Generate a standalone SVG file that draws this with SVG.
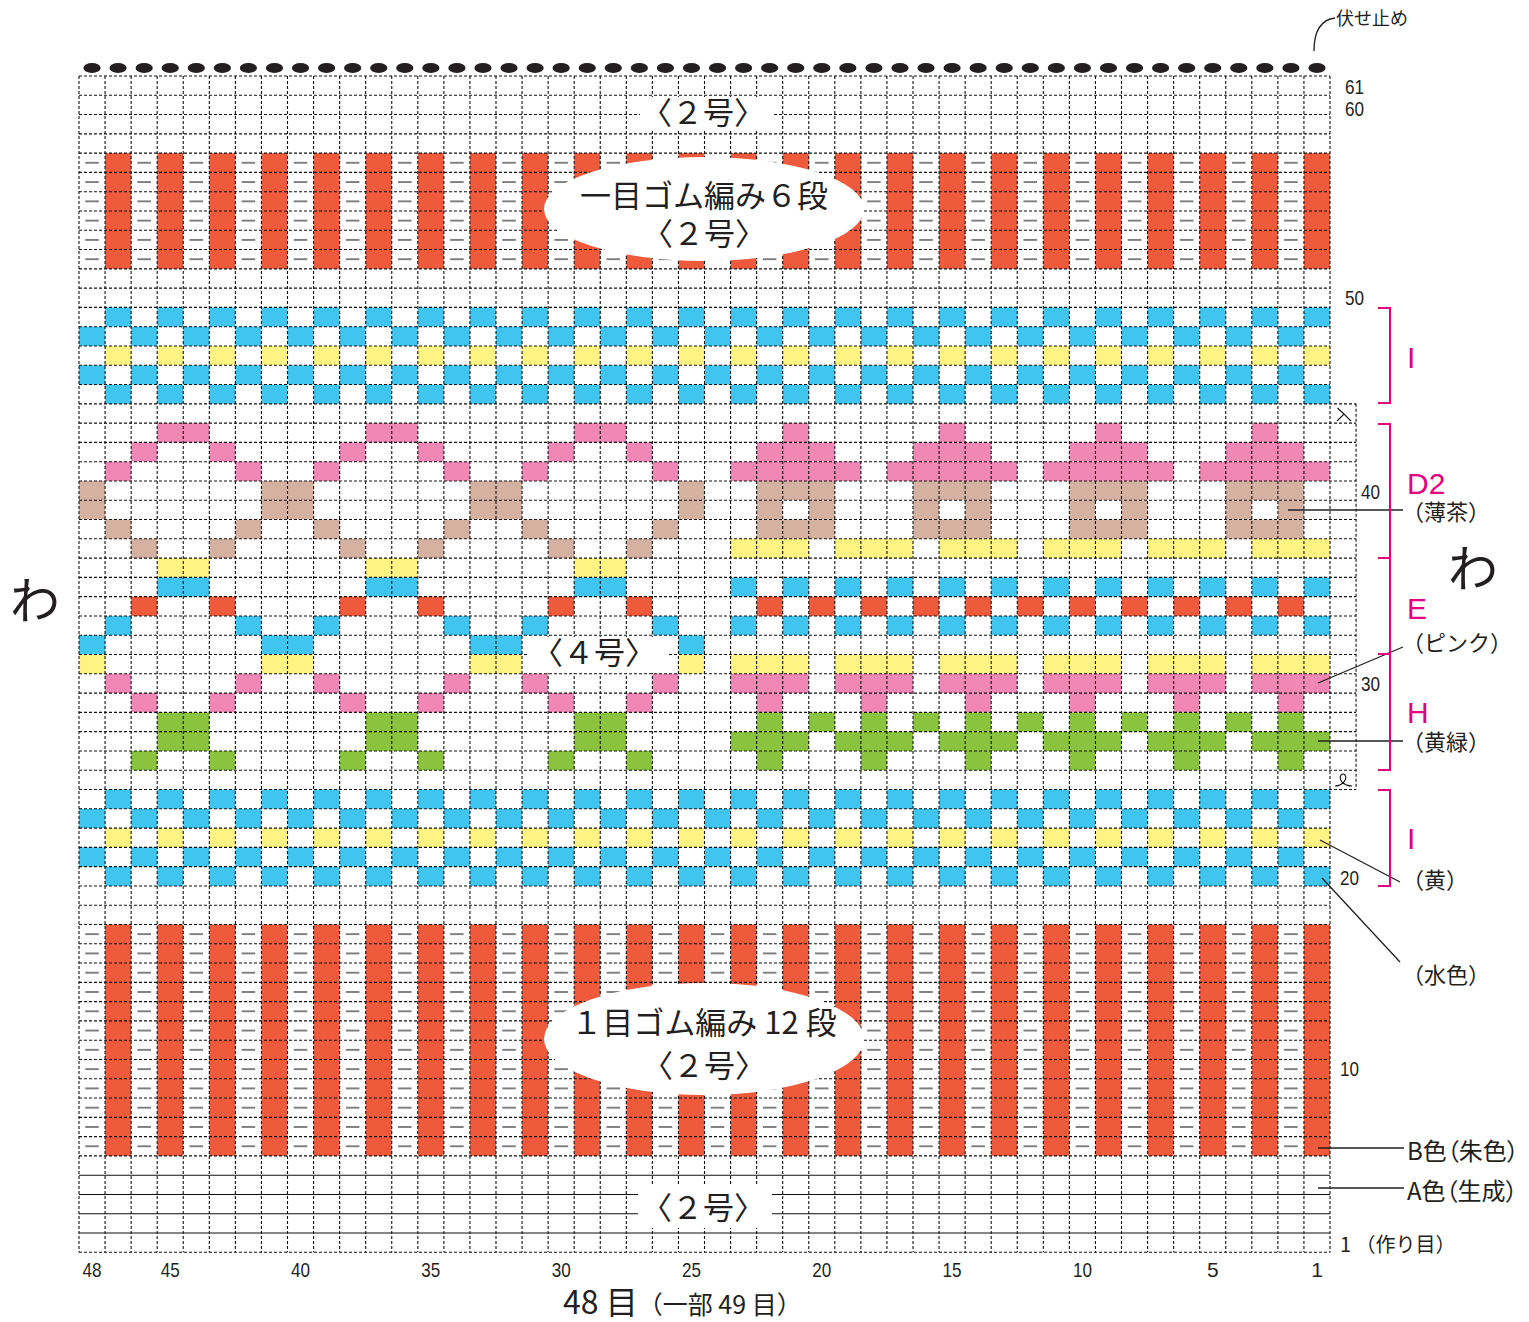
<svg xmlns="http://www.w3.org/2000/svg" xmlns:xlink="http://www.w3.org/1999/xlink" width="1529" height="1322" viewBox="0 0 1529 1322">
<style>
.gd{fill:none;stroke:#111;stroke-width:1.1;stroke-dasharray:3 2}
.gs{fill:none;stroke:#111;stroke-width:1.1}
.ld{fill:none;stroke:#231F20;stroke-width:1.3}
.br{fill:none;stroke:#E5007F;stroke-width:2}
.jp{font-family:"Noto Sans CJK JP","Noto Sans",sans-serif;fill:#231F20}
.pa{font-feature-settings:"palt"}
.num{font-family:"Liberation Sans",Arial,sans-serif;fill:#231F20;font-size:21px}
.mg{font-family:"Liberation Sans",Arial,sans-serif;fill:#E5007F;font-size:30px}
.r{fill:#EF5A3D}.b{fill:#3FC5F0}.y{fill:#FFF383}.p{fill:#F087B5}.t{fill:#D5B1A2}.gr{fill:#8AC43F}.dk{fill:#231F20}.pu{fill:#7F7F7F}
</style>
<defs>
<g id="odd"><rect x="1" width="1" height="1"/><rect x="3" width="1" height="1"/><rect x="5" width="1" height="1"/><rect x="7" width="1" height="1"/><rect x="9" width="1" height="1"/><rect x="11" width="1" height="1"/><rect x="13" width="1" height="1"/><rect x="15" width="1" height="1"/><rect x="17" width="1" height="1"/><rect x="19" width="1" height="1"/><rect x="21" width="1" height="1"/><rect x="23" width="1" height="1"/><rect x="25" width="1" height="1"/><rect x="27" width="1" height="1"/><rect x="29" width="1" height="1"/><rect x="31" width="1" height="1"/><rect x="33" width="1" height="1"/><rect x="35" width="1" height="1"/><rect x="37" width="1" height="1"/><rect x="39" width="1" height="1"/><rect x="41" width="1" height="1"/><rect x="43" width="1" height="1"/><rect x="45" width="1" height="1"/><rect x="47" width="1" height="1"/></g>
<g id="even"><rect x="0" width="1" height="1"/><rect x="2" width="1" height="1"/><rect x="4" width="1" height="1"/><rect x="6" width="1" height="1"/><rect x="8" width="1" height="1"/><rect x="10" width="1" height="1"/><rect x="12" width="1" height="1"/><rect x="14" width="1" height="1"/><rect x="16" width="1" height="1"/><rect x="18" width="1" height="1"/><rect x="20" width="1" height="1"/><rect x="22" width="1" height="1"/><rect x="24" width="1" height="1"/><rect x="26" width="1" height="1"/><rect x="28" width="1" height="1"/><rect x="30" width="1" height="1"/><rect x="32" width="1" height="1"/><rect x="34" width="1" height="1"/><rect x="36" width="1" height="1"/><rect x="38" width="1" height="1"/><rect x="40" width="1" height="1"/><rect x="42" width="1" height="1"/><rect x="44" width="1" height="1"/><rect x="46" width="1" height="1"/></g>
<g id="dsh" class="pu"><rect x="0.24" y="0.45" width="0.52" height="0.1"/><rect x="2.24" y="0.45" width="0.52" height="0.1"/><rect x="4.24" y="0.45" width="0.52" height="0.1"/><rect x="6.24" y="0.45" width="0.52" height="0.1"/><rect x="8.24" y="0.45" width="0.52" height="0.1"/><rect x="10.24" y="0.45" width="0.52" height="0.1"/><rect x="12.24" y="0.45" width="0.52" height="0.1"/><rect x="14.24" y="0.45" width="0.52" height="0.1"/><rect x="16.24" y="0.45" width="0.52" height="0.1"/><rect x="18.24" y="0.45" width="0.52" height="0.1"/><rect x="20.24" y="0.45" width="0.52" height="0.1"/><rect x="22.24" y="0.45" width="0.52" height="0.1"/><rect x="24.24" y="0.45" width="0.52" height="0.1"/><rect x="26.24" y="0.45" width="0.52" height="0.1"/><rect x="28.24" y="0.45" width="0.52" height="0.1"/><rect x="30.24" y="0.45" width="0.52" height="0.1"/><rect x="32.24" y="0.45" width="0.52" height="0.1"/><rect x="34.24" y="0.45" width="0.52" height="0.1"/><rect x="36.24" y="0.45" width="0.52" height="0.1"/><rect x="38.24" y="0.45" width="0.52" height="0.1"/><rect x="40.24" y="0.45" width="0.52" height="0.1"/><rect x="42.24" y="0.45" width="0.52" height="0.1"/><rect x="44.24" y="0.45" width="0.52" height="0.1"/><rect x="46.24" y="0.45" width="0.52" height="0.1"/></g>
<g id="lm">
<rect class="p" x="3" y="18" width="2" height="1"/><rect class="p" x="2" y="19" width="1" height="1"/><rect class="p" x="5" y="19" width="1" height="1"/><rect class="p" x="1" y="20" width="1" height="1"/><rect class="p" x="6" y="20" width="1" height="1"/>
<rect class="t" x="0" y="21" width="1" height="2"/><rect class="t" x="7" y="21" width="1" height="2"/><rect class="t" x="1" y="23" width="1" height="1"/><rect class="t" x="6" y="23" width="1" height="1"/><rect class="t" x="2" y="24" width="1" height="1"/><rect class="t" x="5" y="24" width="1" height="1"/>
<rect class="y" x="3" y="25" width="2" height="1"/><rect class="b" x="3" y="26" width="2" height="1"/><rect class="r" x="2" y="27" width="1" height="1"/><rect class="r" x="5" y="27" width="1" height="1"/>
<rect class="b" x="1" y="28" width="1" height="1"/><rect class="b" x="6" y="28" width="1" height="1"/><rect class="b" x="0" y="29" width="1" height="1"/><rect class="b" x="7" y="29" width="1" height="1"/>
<rect class="y" x="0" y="30" width="1" height="1"/><rect class="y" x="7" y="30" width="1" height="1"/>
<rect class="p" x="1" y="31" width="1" height="1"/><rect class="p" x="6" y="31" width="1" height="1"/><rect class="p" x="2" y="32" width="1" height="1"/><rect class="p" x="5" y="32" width="1" height="1"/>
<rect class="gr" x="3" y="33" width="2" height="2"/><rect class="gr" x="2" y="35" width="1" height="1"/><rect class="gr" x="5" y="35" width="1" height="1"/>
</g>
<g id="hs">
<rect class="p" x="2" y="18" width="1" height="1"/><rect class="p" x="1" y="19" width="3" height="1"/><rect class="p" x="0" y="20" width="5" height="1"/>
<rect class="t" x="1" y="21" width="3" height="1"/><rect class="t" x="1" y="22" width="1" height="1"/><rect class="t" x="3" y="22" width="1" height="1"/><rect class="t" x="1" y="23" width="3" height="1"/>
</g>
<g id="s3">
<rect class="y" x="0" y="24" width="3" height="1"/>
<rect class="b" x="0" y="26" width="1" height="1"/><rect class="b" x="2" y="26" width="1" height="1"/>
<rect class="r" x="1" y="27" width="1" height="1"/>
<rect class="b" x="0" y="28" width="1" height="1"/><rect class="b" x="2" y="28" width="1" height="1"/>
<rect class="y" x="0" y="30" width="3" height="1"/>
<rect class="p" x="0" y="31" width="3" height="1"/>
<rect class="p" x="1" y="32" width="1" height="1"/>
<rect class="gr" x="1" y="33" width="1" height="1"/>
<rect class="gr" x="0" y="34" width="3" height="1"/>
<rect class="gr" x="1" y="35" width="1" height="1"/>
</g>
</defs>
<rect width="1529" height="1322" fill="#fff"/>
<g id="chart" transform="translate(79 76) scale(26.0625 19.284)">
<g id="rib-top">
<use xlink:href="#odd" class="r" transform="translate(0 4) scale(1 6)"/>
<use xlink:href="#dsh" y="4"/><use xlink:href="#dsh" y="5"/><use xlink:href="#dsh" y="6"/><use xlink:href="#dsh" y="7"/><use xlink:href="#dsh" y="8"/><use xlink:href="#dsh" y="9"/>
</g>
<g id="rib-bottom">
<use xlink:href="#odd" class="r" transform="translate(0 44) scale(1 12)"/>
<use xlink:href="#dsh" y="44"/><use xlink:href="#dsh" y="45"/><use xlink:href="#dsh" y="46"/><use xlink:href="#dsh" y="47"/><use xlink:href="#dsh" y="48"/><use xlink:href="#dsh" y="49"/><use xlink:href="#dsh" y="50"/><use xlink:href="#dsh" y="51"/><use xlink:href="#dsh" y="52"/><use xlink:href="#dsh" y="53"/><use xlink:href="#dsh" y="54"/><use xlink:href="#dsh" y="55"/>
</g>
<g id="band-I-top">
<use xlink:href="#odd" class="b" y="12"/><use xlink:href="#even" class="b" y="13"/><use xlink:href="#odd" class="y" y="14"/><use xlink:href="#even" class="b" y="15"/><use xlink:href="#odd" class="b" y="16"/>
</g>
<g id="band-I-bottom">
<use xlink:href="#odd" class="b" y="37"/><use xlink:href="#even" class="b" y="38"/><use xlink:href="#odd" class="y" y="39"/><use xlink:href="#even" class="b" y="40"/><use xlink:href="#odd" class="b" y="41"/>
</g>
<g id="motif-left">
<use xlink:href="#lm" x="0"/><use xlink:href="#lm" x="8"/><use xlink:href="#lm" x="16"/>
</g>
<g id="motif-right">
<use xlink:href="#hs" x="25"/><use xlink:href="#hs" x="31"/><use xlink:href="#hs" x="37"/><use xlink:href="#hs" x="43"/>
<use xlink:href="#s3" x="25"/><use xlink:href="#s3" x="29"/><use xlink:href="#s3" x="33"/><use xlink:href="#s3" x="37"/><use xlink:href="#s3" x="41"/><use xlink:href="#s3" x="45"/>
<rect class="r" x="28" y="27" width="1" height="1"/><rect class="r" x="32" y="27" width="1" height="1"/><rect class="r" x="36" y="27" width="1" height="1"/><rect class="r" x="40" y="27" width="1" height="1"/><rect class="r" x="44" y="27" width="1" height="1"/>
<rect class="gr" x="28" y="33" width="1" height="1"/><rect class="gr" x="32" y="33" width="1" height="1"/><rect class="gr" x="36" y="33" width="1" height="1"/><rect class="gr" x="40" y="33" width="1" height="1"/><rect class="gr" x="44" y="33" width="1" height="1"/>
</g>
<g id="bind-off" class="dk">
<ellipse cx="0.5" cy="-0.415" rx="0.33" ry="0.255"/><ellipse cx="1.5" cy="-0.415" rx="0.33" ry="0.255"/><ellipse cx="2.5" cy="-0.415" rx="0.33" ry="0.255"/><ellipse cx="3.5" cy="-0.415" rx="0.33" ry="0.255"/><ellipse cx="4.5" cy="-0.415" rx="0.33" ry="0.255"/><ellipse cx="5.5" cy="-0.415" rx="0.33" ry="0.255"/><ellipse cx="6.5" cy="-0.415" rx="0.33" ry="0.255"/><ellipse cx="7.5" cy="-0.415" rx="0.33" ry="0.255"/><ellipse cx="8.5" cy="-0.415" rx="0.33" ry="0.255"/><ellipse cx="9.5" cy="-0.415" rx="0.33" ry="0.255"/><ellipse cx="10.5" cy="-0.415" rx="0.33" ry="0.255"/><ellipse cx="11.5" cy="-0.415" rx="0.33" ry="0.255"/><ellipse cx="12.5" cy="-0.415" rx="0.33" ry="0.255"/><ellipse cx="13.5" cy="-0.415" rx="0.33" ry="0.255"/><ellipse cx="14.5" cy="-0.415" rx="0.33" ry="0.255"/><ellipse cx="15.5" cy="-0.415" rx="0.33" ry="0.255"/><ellipse cx="16.5" cy="-0.415" rx="0.33" ry="0.255"/><ellipse cx="17.5" cy="-0.415" rx="0.33" ry="0.255"/><ellipse cx="18.5" cy="-0.415" rx="0.33" ry="0.255"/><ellipse cx="19.5" cy="-0.415" rx="0.33" ry="0.255"/><ellipse cx="20.5" cy="-0.415" rx="0.33" ry="0.255"/><ellipse cx="21.5" cy="-0.415" rx="0.33" ry="0.255"/><ellipse cx="22.5" cy="-0.415" rx="0.33" ry="0.255"/><ellipse cx="23.5" cy="-0.415" rx="0.33" ry="0.255"/><ellipse cx="24.5" cy="-0.415" rx="0.33" ry="0.255"/><ellipse cx="25.5" cy="-0.415" rx="0.33" ry="0.255"/><ellipse cx="26.5" cy="-0.415" rx="0.33" ry="0.255"/><ellipse cx="27.5" cy="-0.415" rx="0.33" ry="0.255"/><ellipse cx="28.5" cy="-0.415" rx="0.33" ry="0.255"/><ellipse cx="29.5" cy="-0.415" rx="0.33" ry="0.255"/><ellipse cx="30.5" cy="-0.415" rx="0.33" ry="0.255"/><ellipse cx="31.5" cy="-0.415" rx="0.33" ry="0.255"/><ellipse cx="32.5" cy="-0.415" rx="0.33" ry="0.255"/><ellipse cx="33.5" cy="-0.415" rx="0.33" ry="0.255"/><ellipse cx="34.5" cy="-0.415" rx="0.33" ry="0.255"/><ellipse cx="35.5" cy="-0.415" rx="0.33" ry="0.255"/><ellipse cx="36.5" cy="-0.415" rx="0.33" ry="0.255"/><ellipse cx="37.5" cy="-0.415" rx="0.33" ry="0.255"/><ellipse cx="38.5" cy="-0.415" rx="0.33" ry="0.255"/><ellipse cx="39.5" cy="-0.415" rx="0.33" ry="0.255"/><ellipse cx="40.5" cy="-0.415" rx="0.33" ry="0.255"/><ellipse cx="41.5" cy="-0.415" rx="0.33" ry="0.255"/><ellipse cx="42.5" cy="-0.415" rx="0.33" ry="0.255"/><ellipse cx="43.5" cy="-0.415" rx="0.33" ry="0.255"/><ellipse cx="44.5" cy="-0.415" rx="0.33" ry="0.255"/><ellipse cx="45.5" cy="-0.415" rx="0.33" ry="0.255"/><ellipse cx="46.5" cy="-0.415" rx="0.33" ry="0.255"/><ellipse cx="47.5" cy="-0.415" rx="0.33" ry="0.255"/>
</g>
</g>
<g id="grid">
<path class="gd" d="M79 76V1252.3M105.06 76V1252.3M131.13 76V1252.3M157.19 76V1252.3M183.25 76V1252.3M209.31 76V1252.3M235.38 76V1252.3M261.44 76V1252.3M287.5 76V1252.3M313.56 76V1252.3M339.63 76V1252.3M365.69 76V1252.3M391.75 76V1252.3M417.81 76V1252.3M443.88 76V1252.3M469.94 76V1252.3M496 76V1252.3M522.06 76V1252.3M548.13 76V1252.3M574.19 76V1252.3M600.25 76V1252.3M626.31 76V1252.3M652.38 76V1252.3M678.44 76V1252.3M704.5 76V1252.3M730.56 76V1252.3M756.63 76V1252.3M782.69 76V1252.3M808.75 76V1252.3M834.81 76V1252.3M860.88 76V1252.3M886.94 76V1252.3M913 76V1252.3M939.06 76V1252.3M965.13 76V1252.3M991.19 76V1252.3M1017.25 76V1252.3M1043.31 76V1252.3M1069.38 76V1252.3M1095.44 76V1252.3M1121.5 76V1252.3M1147.56 76V1252.3M1173.63 76V1252.3M1199.69 76V1252.3M1225.75 76V1252.3M1251.81 76V1252.3M1277.88 76V1252.3M1303.94 76V1252.3M1330 76V1252.3M1356.06 403.83V789.51"/>
<path class="gd" d="M79 76H1330M79 95.28H1330M79 114.57H1330M79 133.85H1330M79 153.14H1330M79 172.42H1330M79 191.7H1330M79 210.99H1330M79 230.27H1330M79 249.56H1330M79 268.84H1330M79 288.12H1330M79 307.41H1330M79 326.69H1330M79 345.98H1330M79 365.26H1330M79 384.54H1330M79 403.83H1356.06M79 423.11H1356.06M79 442.4H1356.06M79 461.68H1356.06M79 480.96H1356.06M79 500.25H1356.06M79 519.53H1356.06M79 538.82H1356.06M79 558.1H1356.06M79 577.38H1356.06M79 596.67H1356.06M79 615.95H1356.06M79 635.24H1356.06M79 654.52H1356.06M79 673.8H1356.06M79 693.09H1356.06M79 712.37H1356.06M79 731.66H1356.06M79 750.94H1356.06M79 770.22H1356.06M79 789.51H1356.06M79 808.79H1330M79 828.08H1330M79 847.36H1330M79 866.64H1330M79 885.93H1330M79 905.21H1330M79 924.5H1330M79 943.78H1330M79 963.06H1330M79 982.35H1330M79 1001.63H1330M79 1020.92H1330M79 1040.2H1330M79 1059.48H1330M79 1078.77H1330M79 1098.05H1330M79 1117.34H1330M79 1136.62H1330M79 1155.9H1330M79 1252.32H1330"/>
<path class="gs" d="M79 1175.19H1330M79 1194.47H1330M79 1213.76H1330M79 1233.04H1330"/>
<path class="gs" d="M1337.5 408L1344 414M1337 421L1344 414L1351 421"/>
<path class="gs" d="M1335 786Q1340 786 1344 782Q1347 778 1345 775Q1343 773 1341 775Q1339 778 1342 782Q1346 786 1352 786"/>
</g>
<g id="label-boxes" fill="#fff">
<rect x="640" y="97" width="133" height="34"/>
<ellipse cx="704" cy="209" rx="160" ry="52"/>
<rect x="527" y="637" width="141" height="36"/>
<ellipse cx="704" cy="1039" rx="160" ry="56"/>
<rect x="638" y="1184" width="134" height="44"/>
</g>
<g id="connectors">
<path class="ld" d="M1314 51C1314 33 1319 20 1335 18"/>
<path class="ld" d="M1288 510H1403"/>
<path class="ld" d="M1318 683L1403 647"/>
<path class="ld" d="M1318 741H1403"/>
<path class="ld" d="M1320 840L1400 882"/>
<path class="ld" d="M1322 878L1400 962"/>
<path class="ld" d="M1318 1148H1404"/>
<path class="ld" d="M1318 1188H1404"/>
</g>
<g id="brackets">
<path class="br" d="M1378 308H1390V403H1378"/>
<path class="br" d="M1378 424H1390V770H1378M1378 558H1390M1378 654H1390"/>
<path class="br" d="M1378 790H1390V886H1378"/>
</g>
<g id="texts">
<text class="jp" x="1336" y="25" font-size="18">伏せ止め</text>
<text class="jp" x="703" y="124" font-size="31" text-anchor="middle">〈２号〉</text>
<text class="jp" x="704" y="207" font-size="31" text-anchor="middle">一目ゴム編み６段</text>
<text class="jp" x="704" y="245" font-size="31" text-anchor="middle">〈２号〉</text>
<text class="jp" x="594" y="664" font-size="31" text-anchor="middle">〈４号〉</text>
<text class="jp" x="704" y="1034" font-size="31" text-anchor="middle">１目ゴム編み 12 段</text>
<text class="jp" x="704" y="1077" font-size="31" text-anchor="middle">〈２号〉</text>
<text class="jp" x="703" y="1219" font-size="31" text-anchor="middle">〈２号〉</text>
<text class="jp" x="10" y="619" font-size="50">わ</text>
<text class="jp" x="1448" y="587" font-size="50">わ</text>
<text class="num" x="1345" y="93.5" textLength="19" lengthAdjust="spacingAndGlyphs">61</text>
<text class="num" x="1345" y="115.5" textLength="19" lengthAdjust="spacingAndGlyphs">60</text>
<text class="num" x="1345" y="305" textLength="19" lengthAdjust="spacingAndGlyphs">50</text>
<text class="num" x="1361" y="499" textLength="19" lengthAdjust="spacingAndGlyphs">40</text>
<text class="num" x="1361" y="691" textLength="19" lengthAdjust="spacingAndGlyphs">30</text>
<text class="num" x="1340" y="884.5" textLength="19" lengthAdjust="spacingAndGlyphs">20</text>
<text class="num" x="1340" y="1076" textLength="19" lengthAdjust="spacingAndGlyphs">10</text>
<text class="jp" x="1340" y="1252" font-size="20">1 （作り目）</text>
<text class="mg" x="1407" y="368">I</text>
<text class="mg" x="1407" y="494">D2</text>
<text class="mg" x="1407" y="619">E</text>
<text class="mg" x="1407" y="723">H</text>
<text class="mg" x="1407" y="849">I</text>
<text class="jp" x="1402" y="520" font-size="22">（薄茶）</text>
<text class="jp" x="1402" y="651" font-size="22">（ピンク）</text>
<text class="jp" x="1402" y="750" font-size="22">（黄緑）</text>
<text class="jp" x="1402" y="888" font-size="22">（黄）</text>
<text class="jp" x="1402" y="983" font-size="22">（水色）</text>
<text class="jp pa" x="1407" y="1160" font-size="24">B色（朱色）</text>
<text class="jp pa" x="1407" y="1200" font-size="24">A色（生成）</text>
<g text-anchor="middle">
<text class="num" x="92.03" y="1277" textLength="19" lengthAdjust="spacingAndGlyphs">48</text>
<text class="num" x="170.22" y="1277" textLength="19" lengthAdjust="spacingAndGlyphs">45</text>
<text class="num" x="300.53" y="1277" textLength="19" lengthAdjust="spacingAndGlyphs">40</text>
<text class="num" x="430.84" y="1277" textLength="19" lengthAdjust="spacingAndGlyphs">35</text>
<text class="num" x="561.16" y="1277" textLength="19" lengthAdjust="spacingAndGlyphs">30</text>
<text class="num" x="691.47" y="1277" textLength="19" lengthAdjust="spacingAndGlyphs">25</text>
<text class="num" x="821.78" y="1277" textLength="19" lengthAdjust="spacingAndGlyphs">20</text>
<text class="num" x="952.09" y="1277" textLength="19" lengthAdjust="spacingAndGlyphs">15</text>
<text class="num" x="1082.41" y="1277" textLength="19" lengthAdjust="spacingAndGlyphs">10</text>
<text class="num" x="1212.72" y="1277">5</text>
<text class="num" x="1316.97" y="1277">1</text>
</g>
<text class="jp" x="563" y="1314"><tspan font-size="32">48 目</tspan><tspan font-size="25">（一部 49 目）</tspan></text>
</g>
</svg>
